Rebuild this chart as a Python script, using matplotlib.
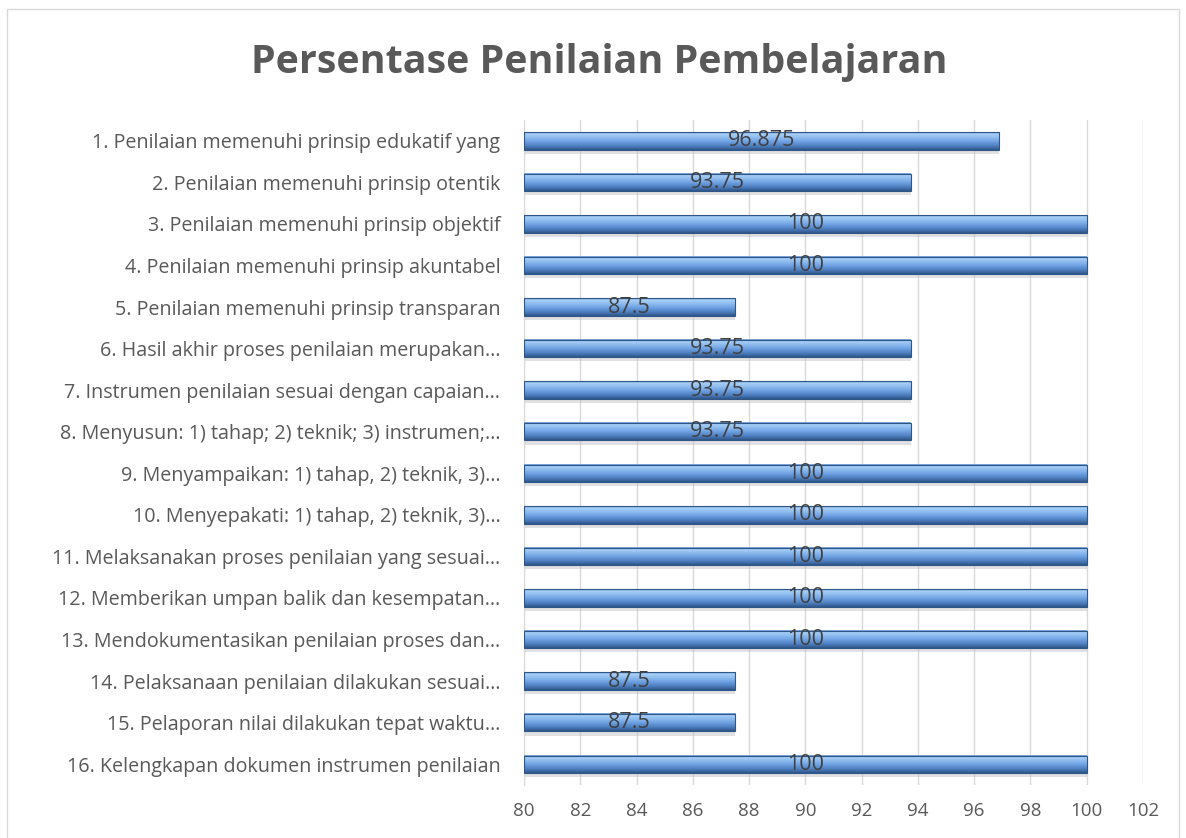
import numpy as np
import matplotlib.pyplot as plt
from matplotlib.patches import Rectangle
from matplotlib.colors import LinearSegmentedColormap

labels = ["1. Penilaian memenuhi prinsip edukatif yang",
          "2. Penilaian memenuhi prinsip otentik",
          "3. Penilaian memenuhi prinsip objektif",
          "4. Penilaian memenuhi prinsip akuntabel",
          "5. Penilaian memenuhi prinsip transparan",
          "6. Hasil akhir proses penilaian merupakan…",
          "7. Instrumen penilaian sesuai dengan capaian…",
          "8. Menyusun: 1) tahap; 2) teknik; 3) instrumen;…",
          "9. Menyampaikan: 1) tahap, 2) teknik, 3)…",
          "10. Menyepakati: 1) tahap, 2) teknik, 3)…",
          "11. Melaksanakan proses penilaian yang sesuai…",
          "12. Memberikan umpan balik dan kesempatan…",
          "13. Mendokumentasikan penilaian proses dan…",
          "14. Pelaksanaan penilaian dilakukan sesuai…",
          "15. Pelaporan nilai dilakukan tepat waktu…",
          "16. Kelengkapan dokumen instrumen penilaian"]
values = [96.875, 93.75, 100, 100, 87.5, 93.75, 93.75, 93.75,
          100, 100, 100, 100, 100, 87.5, 87.5, 100]
xticks = [80, 82, 84, 86, 88, 90, 92, 94, 96, 98, 100, 102]

plt.rcParams['font.family'] = ['Open Sans', 'DejaVu Sans']

fig = plt.figure(figsize=(11.86, 8.38), dpi=100)
ax = fig.add_axes([0.4418, 0.0632, 0.5219, 0.7936])

y = np.arange(len(values))
base = 80
w = np.array(values) - base
h = 0.42

# vertical gradient, top -> bottom, like the Excel bevel
bevel = LinearSegmentedColormap.from_list('bevel', [
    (0.0, '#6f9bd1'), (0.1, '#a9cff6'), (0.3, '#8fbdf0'), (0.55, '#6c9fe0'),
    (0.8, '#4b7bbb'), (1.0, '#2f5688')])
grad = np.linspace(0, 1, 64).reshape(-1, 1)

# soft shadow
ax.barh(y + 0.1, w, height=h, left=base, color='#bdbdbd', alpha=0.45, zorder=2)
for yi, v in zip(y, values):
    ax.imshow(grad, cmap=bevel, aspect='auto', extent=(base, v, yi + h / 2, yi - h / 2),
              interpolation='bilinear', zorder=3)
ax.barh(y, w, height=h, left=base, fill=False, edgecolor='#2f5688', linewidth=0.8, zorder=4)

for yi, v in zip(y, values):
    ax.text((base + v) / 2, yi, '{:g}'.format(v), ha='center', va='center',
            fontsize=15.5, color='#404040', zorder=6)

ax.set_xlim(80, 102)
ax.set_ylim(len(values) - 0.5, -0.5)
ax.set_xticks(xticks)
ax.set_yticks(y)
ax.set_yticklabels(labels)
ax.tick_params(axis='y', length=0, pad=17, labelsize=14.2, labelcolor='#595959')
ax.tick_params(axis='x', length=0, pad=12, labelsize=13.5, labelcolor='#595959')
for s in ['top', 'right', 'bottom']:
    ax.spines[s].set_visible(False)
ax.spines['left'].set_color('#d9d9d9')
ax.grid(axis='x', color='#d9d9d9', linewidth=1, zorder=0)
ax.set_axisbelow(True)

fig.text(0.505, 0.925, 'Persentase Penilaian Pembelajaran', ha='center', va='center',
         fontsize=28.4, fontweight='bold', color='#595959')

fig.patches.append(Rectangle((0.006, -0.01), 0.988, 0.999, transform=fig.transFigure,
                             fill=False, edgecolor='#d9d9d9', linewidth=1))

fig.savefig('out.png', dpi=100)
